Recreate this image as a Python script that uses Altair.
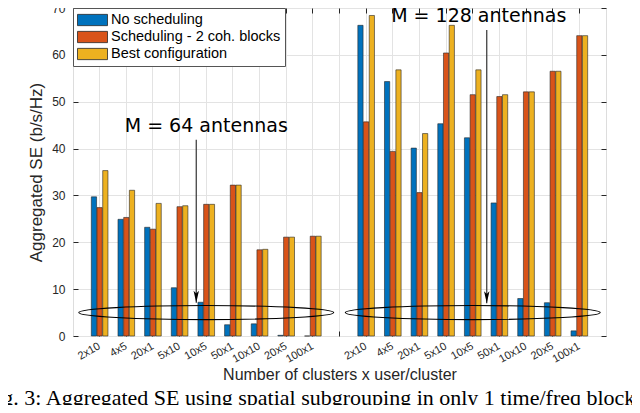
import altair as alt
import pandas as pd

# ---------------- data ----------------
categories = ["2x10", "4x5", "20x1", "5x10", "10x5", "50x1", "10x10", "20x5", "100x1"]
series = ["No scheduling", "Scheduling - 2 coh. blocks", "Best configuration"]
colors = ["#0072BD", "#D95319", "#EDB120"]

no_sched_64 = [29.7, 24.9, 23.2, 10.3, 7.2, 2.4, 2.6, 0.15, 0.0]
sched_64 = [27.4, 25.3, 22.8, 27.6, 28.1, 32.2, 18.4, 21.1, 21.3]
best_64 = [35.3, 31.1, 28.3, 27.8, 28.1, 32.2, 18.5, 21.1, 21.3]

no_sched_128 = [66.3, 54.3, 40.1, 45.3, 42.3, 28.4, 8.0, 7.1, 1.1]
sched_128 = [45.7, 39.4, 30.6, 60.4, 51.5, 51.1, 52.1, 56.5, 64.1]
best_128 = [68.4, 56.8, 43.2, 66.3, 56.8, 51.5, 52.1, 56.5, 64.1]

y_ticks = [0, 10, 20, 30, 40, 50, 60, 70]

ellipse_keys = ["64|10x5", "128|10x5"]
ellipse_y = [5.0, 5.0]

arrow_keys = ["64|10x5", "128|10x5"]
arrow_top = [41.9, 65.3]
arrow_tip = [7.1, 7.0]
annot_labels = ["M = 64 antennas", "M = 128 antennas"]
annot_y = [44.8, 68.3]

caption = ["Fig. 3: Aggregated SE using spatial subgrouping in only 1 time/freq block"]

# ---------------- tables ----------------
rows = []
for g, sets in (("64", (no_sched_64, sched_64, best_64)),
                ("128", (no_sched_128, sched_128, best_128))):
    for i, c in enumerate(categories):
        for s, vals in zip(series, sets):
            rows.append({"key": f"{g}|{c}", "series": s, "value": vals[i]})
df = pd.DataFrame(rows)

keys = [f"64|{c}" for c in categories] + [" "] + [f"128|{c}" for c in categories]

FONT = "Liberation Sans"
AX = "#262626"
GRID = "#e3e3e3"

xscale = alt.Scale(domain=keys, paddingInner=0, paddingOuter=0.5)
yscale = alt.Scale(domain=[0, 70], nice=False, zero=True)
label_expr = "indexof(datum.label, '|') >= 0 ? split(datum.label, '|')[1] : ''"

bars = alt.Chart(df).mark_bar(stroke="#262626", strokeWidth=0.6).encode(
    x=alt.X("key:N", scale=xscale, sort=keys,
            axis=alt.Axis(title="Number of clusters x user/cluster", labelExpr=label_expr,
                          labelAngle=330, labelAlign="right", labelBaseline="middle",
                          labelFontSize=11, labelPadding=9, labelColor=AX,
                          tickSize=5, offset=-5, domain=False, tickColor=AX,
                          grid=True, gridColor=GRID, bandPosition=0.5,
                          titleFontSize=16, titlePadding=2, titleColor=AX,
                          titleFontWeight="normal", titleFont=FONT, labelFont=FONT)),
    xOffset=alt.XOffset("series:N", sort=series,
                        scale=alt.Scale(domain=series, paddingInner=0.08, paddingOuter=0.88)),
    y=alt.Y("value:Q", scale=yscale,
            axis=alt.Axis(title="Aggregated SE (b/s/Hz)", values=y_ticks,
                          offset=-5, tickSize=5, domain=False, tickColor=AX,
                          labelPadding=8, labelFontSize=12, labelColor=AX,
                          grid=True, gridColor=GRID, titleFontSize=17, titlePadding=6,
                          titleColor=AX, titleFontWeight="normal", titleFont=FONT,
                          labelFont=FONT)),
    color=alt.Color("series:N", sort=series, scale=alt.Scale(domain=series, range=colors),
                    legend=alt.Legend(title=None, orient="top-left", offset=0, padding=4,
                                      strokeColor="#555555", fillColor="white",
                                      symbolType="M-2,-0.75H2V0.75H-2Z", symbolSize=225,
                                      symbolOffset=7.5,
                                      symbolStrokeColor="#262626", symbolStrokeWidth=0.8,
                                      symbolOpacity=1, labelFont=FONT, labelFontSize=14.5,
                                      labelColor="black", labelOffset=10.5, rowPadding=1,
                                      labelLimit=0, cornerRadius=0)),
)

ell_df = pd.DataFrame({"key": ellipse_keys, "value": ellipse_y})
ellipses = alt.Chart(ell_df).mark_point(
    shape="M-1,0A1,0.055,0,1,0,1,0A1,0.055,0,1,0,-1,0Z",
    size=65025, filled=False, stroke="black", strokeWidth=1.1, opacity=1,
).encode(
    x=alt.X("key:N", scale=xscale, sort=keys,
            axis=alt.Axis(orient="top", labels=False, title=None, domain=False, grid=False,
                          tickSize=5, offset=-5, tickColor=AX, bandPosition=0.5)),
    y=alt.Y("value:Q", scale=yscale,
            axis=alt.Axis(orient="right", labels=False, title=None, domain=False, grid=False,
                          tickSize=5, offset=-5, tickColor=AX, values=y_ticks)),
)

layers = [bars, ellipses]

arrow_dx = [-10, 14]
text_dx = [0, 6]
for k, top, tip, lab, ly, adx, tdx in zip(arrow_keys, arrow_top, arrow_tip, annot_labels,
                                            annot_y, arrow_dx, text_dx):
    a_df = pd.DataFrame({"key": [k], "top": [top], "tip": [tip], "label": [lab], "ly": [ly]})
    base = alt.Chart(a_df)
    xk = alt.X("key:N", scale=xscale, sort=keys, axis=None)
    layers.append(base.mark_rule(color="#333333", strokeWidth=1.2, xOffset=adx).encode(
        x=xk, y=alt.Y("top:Q", scale=yscale, axis=None), y2="tip:Q"))
    layers.append(base.mark_point(shape="M-0.45,-1L0,-0.55L0.45,-1L0,1Z", size=144,
                                  filled=True, color="black", opacity=1,
                                  xOffset=adx, yOffset=-6).encode(
        x=xk, y=alt.Y("tip:Q", scale=yscale, axis=None)))
    layers.append(base.mark_text(font="DejaVu Sans", fontSize=19, color="black",
                                 align="center", baseline="middle", xOffset=tdx).encode(
        x=xk, y=alt.Y("ly:Q", scale=yscale, axis=None), text="label:N"))

cap_df = pd.DataFrame({"text": caption})
layers.append(alt.Chart(cap_df).mark_text(font="Liberation Serif", fontSize=22, color="black",
                                          align="left", baseline="alphabetic").encode(
    x=alt.value(-89), y=alt.value(397), text="text:N"))

chart = alt.layer(*layers).resolve_axis(x="independent", y="independent").properties(
    width=533, height=328,
    autosize=alt.AutoSizeParams(type="none"),
    padding={"left": 65, "top": 0, "right": 26, "bottom": 69},
).configure_view(stroke="#404040", strokeWidth=1).configure(font=FONT)

chart.save("out.html", embed_options={"renderer": "svg", "actions": False})
